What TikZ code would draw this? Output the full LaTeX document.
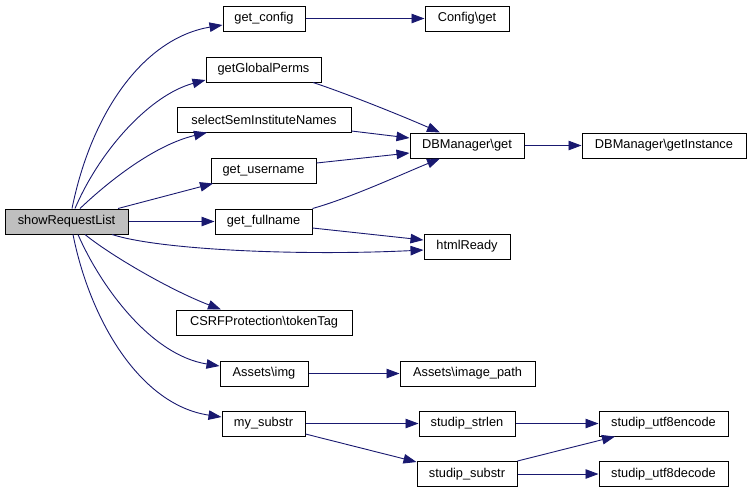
\documentclass[tikz,border=0pt]{standalone}
\usepackage{fontspec}
\setmainfont{Liberation Sans}
\usetikzlibrary{arrows.meta}
\definecolor{edgeblue}{HTML}{191970}
\definecolor{srcgray}{HTML}{BFBFBF}
\begin{document}
\begin{tikzpicture}[x=1pt,y=-1pt,
  fn/.style={draw=black,line width=1pt,inner sep=0pt,minimum height=25pt,font=\fontsize{12.8}{15}\selectfont,fill=white},
  srcfn/.style={fn,fill=srcgray},
  call/.style={draw=edgeblue,line width=0.9pt,-{Triangle[length=13pt,width=9.5pt]},fill=none},
]
\useasboundingbox (0,0) rectangle (751,493);
% nodes
\node[srcfn,minimum width=123pt] (src) at (66.5,221.5) {showRequestList};
\node[fn,minimum width=82pt] (gc) at (264,18.5) {get\_config};
\node[fn,minimum width=115pt] (gp) at (263.5,69.5) {getGlobalPerms};
\node[fn,minimum width=174pt] (ss) at (264,119.5) {selectSemInstituteNames};
\node[fn,minimum width=105pt] (gu) at (263.5,170.5) {get\_username};
\node[fn,minimum width=97pt] (gf) at (263.5,221.5) {get\_fullname};
\node[fn,minimum width=176pt] (csrf) at (264,322.5) {CSRFProtection\textbackslash tokenTag};
\node[fn,minimum width=88pt] (ai) at (264,373.5) {Assets\textbackslash img};
\node[fn,minimum width=83pt] (ms) at (263.5,423.5) {my\_substr};
\node[fn,minimum width=84pt] (cg) at (467,18.5) {Config\textbackslash get};
\node[fn,minimum width=114pt] (db) at (467,145.5) {DBManager\textbackslash get};
\node[fn,minimum width=86pt] (hr) at (467,246.5) {htmlReady};
\node[fn,minimum width=135pt] (ip) at (467.5,373.5) {Assets\textbackslash image\_path};
\node[fn,minimum width=96pt] (sl) at (467,423.5) {studip\_strlen};
\node[fn,minimum width=100pt] (sb) at (467,474) {studip\_substr};
\node[fn,minimum width=164pt] (dbi) at (664,145.5) {DBManager\textbackslash getInstance};
\node[fn,minimum width=129pt] (ue) at (663.5,423.5) {studip\_utf8encode};
\node[fn,minimum width=129pt] (ud) at (663.5,474) {studip\_utf8decode};
% edges from showRequestList
\draw[call] ([xshift=5.5pt]src.north) .. controls (92,110) and (145,38) .. ([yshift=-6.5pt]gc.west);
\draw[call] ([xshift=8.5pt]src.north) .. controls (100,150) and (150,95) .. ([yshift=-10.5pt]gp.west);
\draw[call] ([xshift=13.5pt]src.north) .. controls (110,180) and (155,145) .. ([xshift=-57pt]ss.south);
\draw[call] ([xshift=51.5pt]src.north) -- ([xshift=-50.5pt]gu.south);
\draw[call] (src.east) -- (gf.west);
\draw[call] ([xshift=45.5pt]src.south) .. controls (160,250) and (300,256) .. ([yshift=-3.5pt]hr.west);
\draw[call] ([xshift=18.5pt]src.south) .. controls (110,255) and (170,290) .. ([xshift=-43pt]csrf.north);
\draw[call] ([xshift=11.5pt]src.south) .. controls (100,285) and (150,355) .. ([yshift=7.5pt]ai.west);
\draw[call] ([xshift=6.5pt]src.south) .. controls (90,320) and (140,405) .. ([yshift=6.5pt]ms.west);
% second level
\draw[call] (gc.east) -- (cg.west);
\draw[call] ([xshift=49.5pt]gp.south) .. controls (345,93) and (400,115) .. ([xshift=-27pt]db.north);
\draw[call] ([yshift=-11.5pt]ss.east) -- ([yshift=7.5pt]db.west);
\draw[call] ([yshift=7.5pt]gu.east) -- ([yshift=-7.5pt]db.west);
\draw[call] (gf.north east) .. controls (350,198) and (400,175) .. ([xshift=-27pt]db.south);
\draw[call] ([yshift=-6.5pt]gf.east) -- ([yshift=6.5pt]hr.west);
\draw[call] (db.east) -- (dbi.west);
\draw[call] (ai.east) -- (ip.west);
\draw[call] (ms.east) -- (sl.west);
\draw[call] ([yshift=-10.5pt]ms.east) -- ([yshift=12pt]sb.west);
\draw[call] (sl.east) -- (ue.west);
\draw[call] (sb.north east) -- ([xshift=-48.5pt]ue.south);
\draw[call] (sb.east) -- (ud.west);
\end{tikzpicture}
\end{document}
